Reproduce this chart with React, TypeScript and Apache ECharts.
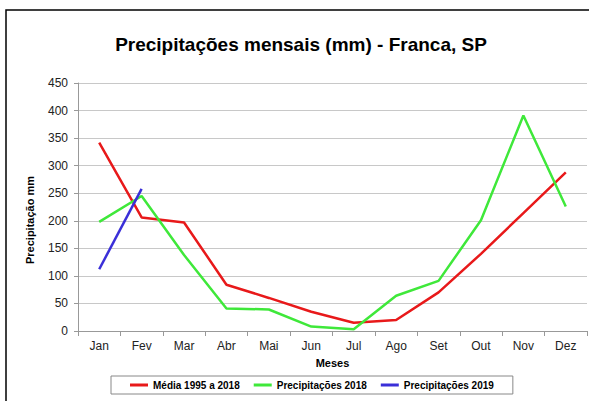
import React, { useEffect, useRef } from "react";
import * as echarts from "echarts";

const months = ["Jan", "Fev", "Mar", "Abr", "Mai", "Jun", "Jul", "Ago", "Set", "Out", "Nov", "Dez"];
const media19952018 = [342, 206, 197, 84, 60, 35, 15, 20, 70, 140, 214, 288];
const precip2018 = [198, 245, 138, 41, 39, 8, 3, 64, 91, 201, 391, 226];
const precip2019 = [112, 258];
const yTicks = [0, 50, 100, 150, 200, 250, 300, 350, 400, 450];

const FONT = "'Liberation Sans', Arial, sans-serif";

export default function App() {
  const ref = useRef<HTMLDivElement>(null);
  useEffect(() => {
    if (!ref.current) return;
    const chart = echarts.init(ref.current, undefined, { renderer: "svg" });
    const mk = (name: string, data: number[], color: string) => ({
      name,
      type: "line",
      data,
      symbol: "none",
      lineStyle: { color, width: 2.5 },
      itemStyle: { color },
    });
    chart.setOption({
      animation: false,
      backgroundColor: "#ffffff",
      title: {
        text: "Precipitações mensais (mm) - Franca, SP",
        left: 301,
        textAlign: "center",
        top: 35,
        padding: 0,
        textStyle: { fontFamily: FONT, fontSize: 19, fontWeight: "bold", color: "#000" },
      },
      grid: { left: 78, right: 2, top: 83, bottom: 70, containLabel: false },
      xAxis: {
        type: "category",
        data: months,
        boundaryGap: true,
        name: "Meses",
        nameLocation: "middle",
        nameGap: 26,
        nameTextStyle: { fontFamily: FONT, fontSize: 11, fontWeight: "bold", color: "#000" },
        axisLine: { lineStyle: { color: "#999", width: 1 } },
        axisTick: { show: true, length: 5, lineStyle: { color: "#999" } },
        axisLabel: { fontFamily: FONT, fontSize: 12, color: "#222", margin: 9 },
      },
      yAxis: {
        type: "value",
        min: yTicks[0],
        max: yTicks[yTicks.length - 1],
        interval: 50,
        axisLine: { show: true, lineStyle: { color: "#999", width: 1 } },
        axisTick: { show: true, length: 4, lineStyle: { color: "#999" } },
        axisLabel: { fontFamily: FONT, fontSize: 12, color: "#222", margin: 10 },
        splitLine: { show: true, lineStyle: { color: "#c8c8c8", width: 1 } },
      },
      legend: {
        left: 111,
        top: 376,
        padding: [4, 19, 4, 19],
        itemGap: 14,
        itemWidth: 18,
        itemHeight: 3,
        icon: "rect",
        borderColor: "#888",
        borderWidth: 1,
        textStyle: { fontFamily: FONT, fontSize: 10, fontWeight: "bold", color: "#000" },
        data: ["Média 1995 a 2018", "Precipitações 2018", "Precipitações 2019"],
      },
      graphic: [
        {
          type: "rect",
          shape: { x: 6, y: 10, width: 700, height: 500 },
          style: { fill: "none", stroke: "#000", lineWidth: 1.5 },
          silent: true,
        },
        {
          type: "text",
          x: 30,
          y: 220,
          rotation: Math.PI / 2,
          style: {
            text: "Precipitação mm",
            fontFamily: FONT,
            fontSize: 11,
            fontWeight: "bold",
            fill: "#000",
            align: "center",
            verticalAlign: "middle",
          },
        },
      ],
      series: [
        mk("Média 1995 a 2018", media19952018, "#e8191a"),
        mk("Precipitações 2018", precip2018, "#3fe83a"),
        mk("Precipitações 2019", precip2019, "#3a2fd8"),
      ],
    });
    return () => chart.dispose();
  }, []);
  return (
    <div
      ref={ref}
      style={{ position: "fixed", left: 0, top: 0, width: 589, height: 401, background: "#fff" }}
    />
  );
}
